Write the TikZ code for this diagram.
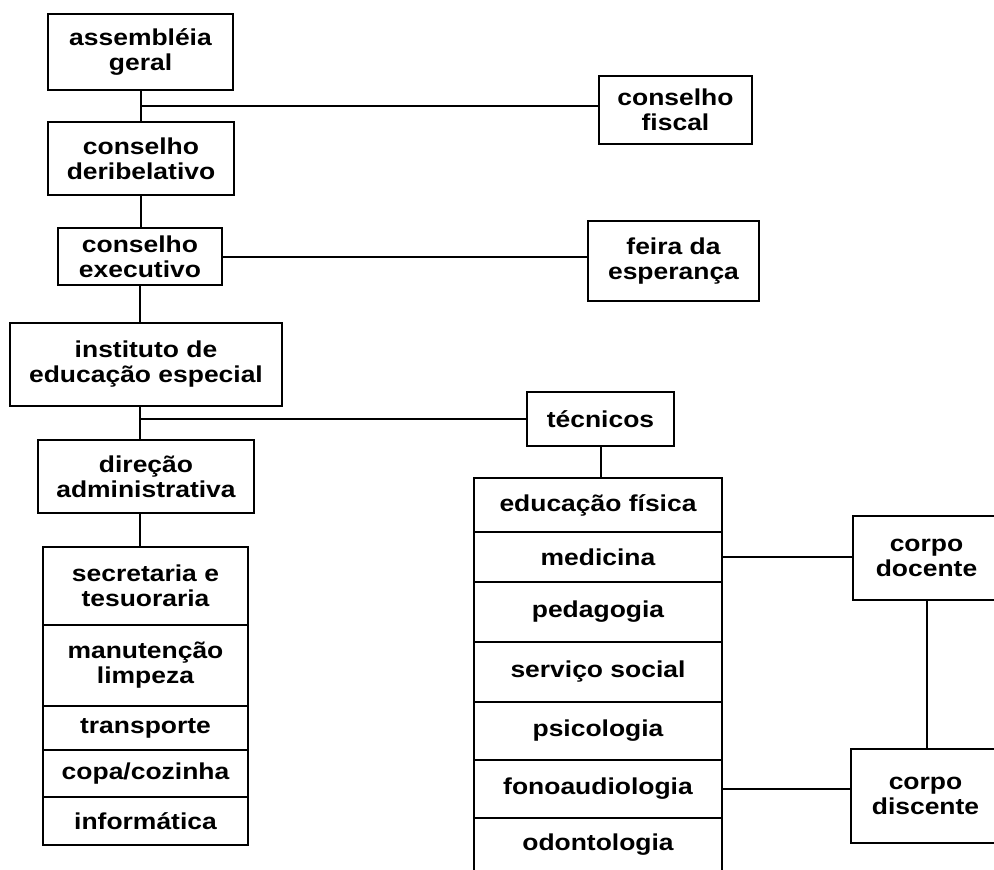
\documentclass[tikz,border=0pt]{standalone}
\usepackage{fontspec}
\newfontfamily\orgfont{Liberation Sans}[FakeStretch=1.15]
\usetikzlibrary{positioning,calc}

\begin{document}
\begin{tikzpicture}[x=1pt, y=-1pt,
  unit/.style={rectangle, draw=black, line width=2.4pt, outer sep=0pt, inner sep=0pt,
    align=center, font=\orgfont\bfseries\fontsize{23}{25}\selectfont},
  cell/.style={unit, minimum width=#1},
  link/.style={line width=2pt, black}
]
\useasboundingbox (0,0) rectangle (994,870);

% upper chain
\node[unit, minimum width=185pt, minimum height=76pt] (assemb) at (140.5,52)    {assembléia\\geral};
\node[unit, minimum width=153pt, minimum height=68pt] (fiscal) at (675.5,110)   {conselho\\fiscal};
\node[unit, minimum width=186pt, minimum height=73pt] (delib)  at (141,158.5)   {conselho\\deribelativo};
\node[unit, minimum width=164pt, minimum height=57pt] (exec)   at (140,256.5)   {conselho\\executivo};
\node[unit, minimum width=171pt, minimum height=80pt] (feira)  at (673.5,261)   {feira da\\esperança};
\node[unit, minimum width=272pt, minimum height=83pt] (inst)   at (146,364.5)   {instituto de\\educação especial};
\node[unit, minimum width=147pt, minimum height=54pt] (tecn)   at (600.5,419)   {técnicos};
\node[unit, minimum width=216pt, minimum height=73pt] (direc)  at (146,476.5)   {direção\\administrativa};

% administrative column
\node[cell=205pt, minimum height=78pt] (secr) at (145.5,586) {secretaria e\\tesuoraria};
\node[cell=205pt, minimum height=81pt, below=0pt of secr] (manut) {manutenção\\limpeza};
\node[cell=205pt, minimum height=44pt, below=0pt of manut] (transp) {transporte};
\node[cell=205pt, minimum height=47pt, below=0pt of transp] (copa) {copa/cozinha};
\node[cell=205pt, minimum height=48pt, below=0pt of copa] (info) {informática};

% technical column
\node[cell=248pt, minimum height=54pt] (edfis) at (598,505) {educação física};
\node[cell=248pt, minimum height=50pt, below=0pt of edfis] (medic) {medicina};
\node[cell=248pt, minimum height=60pt, below=0pt of medic] (pedag) {pedagogia};
\node[cell=248pt, minimum height=60pt, below=0pt of pedag] (servs) {serviço social};
\node[cell=248pt, minimum height=58pt, below=0pt of servs] (psico) {psicologia};
\node[cell=248pt, minimum height=58pt, below=0pt of psico] (fono) {fonoaudiologia};
\node[cell=248pt, minimum height=54pt, below=0pt of fono] (odont) {odontologia};

\node[unit, minimum width=147pt, minimum height=84pt] (docen) at (926.5,558) {corpo\\docente};
\node[unit, minimum width=149pt, minimum height=94pt] (discen) at (925.5,796) {corpo\\discente};

% connectors
\coordinate (jfis) at ($(assemb.south)!0.5!(assemb.south |- delib.north)$);
\draw[link] (assemb.south) -- (assemb.south |- delib.north);
\draw[link] (jfis) -- (jfis -| fiscal.west);
\draw[link] (delib.south) -- (delib.south |- exec.north);
\draw[link] (exec.east) -- (exec.east -| feira.west);
\draw[link] (exec.south) -- (exec.south |- inst.north);
\draw[link] (exec.south |- inst.south) -- (exec.south |- direc.north);
\draw[link] (exec.south |- tecn.west) -- (tecn.west);
\draw[link] (exec.south |- direc.south) -- (exec.south |- secr.north);
\draw[link] (tecn.south) -- (tecn.south |- edfis.north);
\draw[link] (medic.east) -- (medic.east -| docen.west);
\draw[link] (fono.east) -- (fono.east -| discen.west);
\draw[link] (docen.south) -- (docen.south |- discen.north);
\end{tikzpicture}
\end{document}
